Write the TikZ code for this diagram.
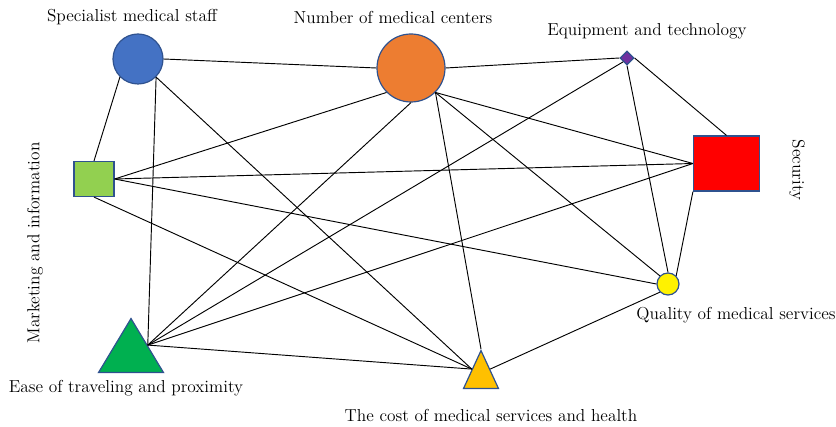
\documentclass[tikz,border=0pt]{standalone}
\usetikzlibrary{shapes.geometric,calc}
\definecolor{edgeblue}{HTML}{2F528F}
\definecolor{ofblue}{HTML}{4472C4}
\definecolor{oforange}{HTML}{ED7D31}
\definecolor{ofpurple}{HTML}{7030A0}
\definecolor{oflime}{HTML}{92D050}
\definecolor{ofgreen}{HTML}{00B050}
\definecolor{ofgold}{HTML}{FFC000}
\begin{document}
\begin{tikzpicture}[x=0.75pt,y=-0.75pt]
    \tikzset{every node/.style={inner sep=0pt},
      factor/.style={draw=edgeblue,line width=0.9pt},
      tri/.style={factor,isosceles triangle,isosceles triangle stretches,shape border rotate=90,anchor=apex},
      lbl/.style={font=\fontsize{13}{15}\selectfont},
      link/.style={black,line width=0.7pt}}
    \useasboundingbox (0,0) rectangle (836,427);
    \node[factor,circle,fill=ofblue,minimum size=37.5pt] (staff) at (138,59) {};
    \node[factor,circle,fill=oforange,minimum size=51pt] (centers) at (411,68) {};
    \node[factor,diamond,fill=ofpurple,minimum width=10.5pt,minimum height=10.5pt] (equip) at (627,58) {};
    \node[factor,rectangle,fill=red,minimum width=49.5pt,minimum height=41.25pt] (secur) at (726.5,163.5) {};
    \node[factor,rectangle,fill=oflime,minimum width=30pt,minimum height=26.25pt] (market) at (94,179) {};
    \node[tri,fill=ofgreen,minimum width=48.75pt,minimum height=40.5pt] (ease) at (131,317) {};
    \node[tri,fill=ofgold,minimum width=26.25pt,minimum height=28.5pt] (cost) at (481,349) {};
    \node[factor,circle,fill=yellow,minimum size=16.5pt] (qual) at (668,284) {};
    \coordinate (easeR) at ($(ease.apex)!0.5!(ease.right corner)$);
    \coordinate (costL) at ($(cost.apex)!0.5!(cost.left corner)$);
    \coordinate (costR) at ($(cost.apex)!0.5!(cost.right corner)$);
    \node[lbl] (staffl) at (132,17) {Specialist medical staff};
    \node[lbl] (centersl) at (393,17) {Number of medical centers};
    \node[lbl] (equipl) at (647,31) {Equipment and technology};
    \node[lbl,rotate=-90] (securl) at (797,170) {Security};
    \node[lbl,rotate=90] (marketl) at (35,243) {Marketing and information};
    \node[lbl] (easel) at (126,388) {Ease of traveling and proximity};
    \node[lbl] (costl) at (491,415) {The cost of medical services and health};
    \node[lbl] (quall) at (736,315) {Quality of medical services};
    \draw[link] (staff.east) -- (centers.west);
    \draw[link] (staff.south west) -- (market.north);
    \draw[link] (staff.south east) -- (easeR);
    \draw[link] (staff.south east) -- (costL);
    \draw[link] (centers.east) -- (equip.west);
    \draw[link] (centers.south west) -- (market.east);
    \draw[link] (centers.south) -- (easeR);
    \draw[link] (centers.south east) -- (cost.apex);
    \draw[link] (centers.south east) -- (secur.west);
    \draw[link] (centers.south east) -- (qual.north west);
    \draw[link] (equip.south west) -- (easeR);
    \draw[link] (equip.south) -- (qual.north);
    \draw[link] (equip.east) -- (secur.north);
    \draw[link] (secur.west) -- (market.east);
    \draw[link] (secur.west) -- (easeR);
    \draw[link] (secur.south west) -- (qual.north east);
    \draw[link] (market.east) -- (qual.west);
    \draw[link] (market.south) -- (costL);
    \draw[link] (easeR) -- (costL);
    \draw[link] (costR) -- (qual.south west);
\end{tikzpicture}
\end{document}
